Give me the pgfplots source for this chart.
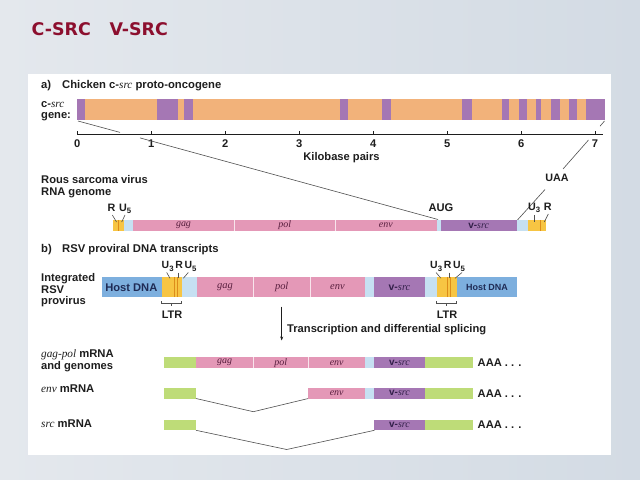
\documentclass[border=0pt]{standalone}
\usepackage{pgfplots}
\pgfplotsset{compat=1.18}
\usetikzlibrary{arrows.meta}
\usepackage{fontspec}
\setmainfont{Liberation Sans}
\newfontfamily\serif{Liberation Serif}
\newfontfamily\titlefont{DejaVu Sans}
\definecolor{bgl}{HTML}{E4E8ED}
\definecolor{bgr}{HTML}{D3DBE4}
\definecolor{corange}{HTML}{F2B27A}
\definecolor{cpurple}{HTML}{A577B4}
\definecolor{cpink}{HTML}{E498B7}
\definecolor{clblue}{HTML}{C6E0F2}
\definecolor{cyellow}{HTML}{F7C543}
\definecolor{chost}{HTML}{7DAFDE}
\definecolor{cgreen}{HTML}{BEDC78}
\definecolor{ctitle}{HTML}{8C0F2E}
\definecolor{ctxt}{HTML}{1E1E1E}
\definecolor{cgene}{HTML}{5A2040}
\definecolor{cvsrc}{HTML}{33204A}
\definecolor{chosttxt}{HTML}{1F2B55}
\definecolor{cline}{HTML}{505050}
\newcommand{\fs}[1]{\fontsize{#1}{#1}\selectfont}
\newcommand{\ital}[1]{{\serif\itshape #1}}
\newcommand{\sub}[1]{\raisebox{-0.45ex}{\fs{7.8}#1}}
\newcommand{\rect}[5]{\addplot[fill=#1,draw=none,forget plot] coordinates {(#2,#4) (#3,#4) (#3,#5) (#2,#5)} --cycle;}
\newcommand{\vdiv}[3]{\addplot[draw=white,opacity=0.75,line width=0.5bp,forget plot] coordinates {(#1,#2) (#1,#3)};}
\newcommand{\ydiv}[3]{\addplot[draw=orange!80!black,opacity=0.6,line width=0.4bp,forget plot] coordinates {(#1,#2) (#1,#3)};}
\newcommand{\cl}[1]{\addplot[draw=cline,line width=0.6bp,forget plot] coordinates {#1};}
\newcommand{\blk}[1]{\addplot[draw=ctxt,line width=0.5bp,forget plot] coordinates {#1};}
\newcommand{\gname}[4]{\node[text=cgene,inner sep=0] at (#1,#2) {\fs{#3}\ital{#4}};}
\newcommand{\vsrc}[3]{\node[text=cvsrc,inner sep=0] at (#1,#2) {\fs{#3}\textbf{v-}\ital{src}};}
\newcommand{\lab}{\fs{11.2}\bfseries}
\begin{document}
\begin{tikzpicture}
\begin{axis}[width=640bp,height=480bp,scale only axis,
  xmin=0,xmax=640,ymin=0,ymax=480,y dir=reverse,hide axis,clip=false]
% background
\addplot[draw=none,left color=bgl,right color=bgr,forget plot] coordinates {(0,0) (640,0) (640,480) (0,480)} --cycle;
\rect{white}{28}{611}{74}{455}
% title
\node[anchor=west,inner sep=0,text=ctitle] at (31.5,29.5) {\titlefont\bfseries\fs{17.5}C-SRC};
\node[anchor=west,inner sep=0,text=ctitle] at (109.5,29.5) {\titlefont\bfseries\fs{17.5}V-SRC};
% ---- part a
\node[anchor=west,inner sep=0,text=ctxt] at (41,85.5) {\fs{11.3}\bfseries a)};
\node[anchor=west,inner sep=0,text=ctxt] at (62,85.5) {\fs{11.3}\bfseries Chicken c-\ital{\mdseries src} proto-oncogene};
\node[anchor=west,inner sep=0,text=ctxt] at (41,104.5) {\lab c-\ital{\mdseries src}};
\node[anchor=west,inner sep=0,text=ctxt] at (41,116.5) {\lab gene:};
% c-src gene bar
\rect{corange}{77.3}{604.7}{99.5}{120.5}
\rect{cpurple}{77.3}{85}{99.5}{120.5}
\rect{cpurple}{157.2}{178}{99.5}{120.5}
\rect{cpurple}{184.3}{192.5}{99.5}{120.5}
\rect{cpurple}{340}{347.7}{99.5}{120.5}
\rect{cpurple}{381.7}{391}{99.5}{120.5}
\rect{cpurple}{462}{472}{99.5}{120.5}
\rect{cpurple}{502.3}{509.3}{99.5}{120.5}
\rect{cpurple}{519.3}{526.7}{99.5}{120.5}
\rect{cpurple}{536}{540.7}{99.5}{120.5}
\rect{cpurple}{550.7}{560}{99.5}{120.5}
\rect{cpurple}{569.3}{576.7}{99.5}{120.5}
\rect{cpurple}{586}{604.7}{99.5}{120.5}
% kb scale
\blk{(77.3,134.3) (603,134.3)}
\blk{(77.3,134.3) (77.3,131)}
\blk{(151.3,134.3) (151.3,131)}
\blk{(225.2,134.3) (225.2,131)}
\blk{(299.2,134.3) (299.2,131)}
\blk{(373.1,134.3) (373.1,131)}
\blk{(447.1,134.3) (447.1,131)}
\blk{(521.1,134.3) (521.1,131)}
\blk{(595.0,134.3) (595.0,131)}
\node[inner sep=0,text=ctxt] at (77.3,143.5) {\lab 0};
\node[inner sep=0,text=ctxt] at (151.3,143.5) {\lab 1};
\node[inner sep=0,text=ctxt] at (225.2,143.5) {\lab 2};
\node[inner sep=0,text=ctxt] at (299.2,143.5) {\lab 3};
\node[inner sep=0,text=ctxt] at (373.1,143.5) {\lab 4};
\node[inner sep=0,text=ctxt] at (447.1,143.5) {\lab 5};
\node[inner sep=0,text=ctxt] at (521.1,143.5) {\lab 6};
\node[inner sep=0,text=ctxt] at (595.0,143.5) {\lab 7};
\node[inner sep=0,text=ctxt] at (341.5,157.5) {\lab Kilobase pairs};
% connecting lines
\cl{(78,121) (120,132.4)}
\cl{(140,137.9) (438,219.5)}
\cl{(604.5,121) (600,126.2)}
\cl{(588.5,140) (563,169)}
\cl{(545,189.5) (517,220.5)}
\node[inner sep=0,text=ctxt] at (557,177.5) {\fs{10.8}\bfseries UAA};
% RSV RNA genome
\node[anchor=west,inner sep=0,text=ctxt] at (41,179.5) {\lab Rous sarcoma virus};
\node[anchor=west,inner sep=0,text=ctxt] at (41,192.5) {\lab RNA genome};
\rect{cyellow}{113.3}{124.3}{220}{231}
\ydiv{118.5}{220}{231}
\rect{clblue}{124.3}{132.7}{220}{231}
\rect{cpink}{132.7}{436.7}{220}{231}
\vdiv{234.3}{220}{231}
\vdiv{335}{220}{231}
\rect{clblue}{436.7}{440.7}{220}{231}
\rect{cpurple}{440.7}{516.7}{220}{231}
\rect{clblue}{516.7}{528.3}{220}{231}
\rect{cyellow}{528.3}{546}{220}{231}
\ydiv{540}{220}{231}
\gname{183.5}{225.5}{10}{gag}
\gname{284.7}{225.5}{10}{pol}
\gname{385.9}{225.5}{10}{env}
\vsrc{478.7}{225.5}{10}
\node[anchor=west,inner sep=0,text=ctxt] at (107.5,209) {\fs{10.8}\bfseries R\,\,U\sub{5}};
\cl{(112.3,215) (116.5,222)}
\cl{(125,215) (121.7,222)}
\node[anchor=west,inner sep=0,text=ctxt] at (528,208) {\fs{10.8}\bfseries U\sub{3}\,\,R};
\cl{(534.5,215) (534.5,222)}
\cl{(548.3,214) (544.3,222)}
\node[inner sep=0,text=ctxt] at (441,208) {\lab AUG};
% ---- part b
\node[anchor=west,inner sep=0,text=ctxt] at (41,249.5) {\fs{11.3}\bfseries b)};
\node[anchor=west,inner sep=0,text=ctxt] at (62,249.5) {\fs{11.3}\bfseries RSV proviral DNA transcripts};
\node[anchor=west,inner sep=0,text=ctxt] at (41,278.3) {\lab Integrated};
\node[anchor=west,inner sep=0,text=ctxt] at (41,289.8) {\lab RSV};
\node[anchor=west,inner sep=0,text=ctxt] at (41,301.5) {\lab provirus};
% provirus bar
\rect{chost}{102.3}{161.7}{277.3}{297.3}
\rect{cyellow}{161.7}{181.7}{277.3}{297.3}
\ydiv{174}{277.3}{297.3}
\ydiv{177.3}{277.3}{297.3}
\rect{clblue}{181.7}{196.7}{277.3}{297.3}
\rect{cpink}{196.7}{365}{277.3}{297.3}
\vdiv{253.3}{277.3}{297.3}
\vdiv{310}{277.3}{297.3}
\rect{clblue}{365}{374}{277.3}{297.3}
\rect{cpurple}{374}{425}{277.3}{297.3}
\rect{clblue}{425}{436.7}{277.3}{297.3}
\rect{cyellow}{436.7}{456.7}{277.3}{297.3}
\ydiv{446.7}{277.3}{297.3}
\ydiv{450}{277.3}{297.3}
\rect{chost}{456.7}{517.3}{277.3}{297.3}
\node[inner sep=0,text=chosttxt] at (131.3,287.3) {\fs{11.2}\bfseries Host DNA};
\node[inner sep=0,text=chosttxt] at (487,287.3) {\fs{9}\bfseries Host DNA};
\gname{225}{287.3}{10.5}{gag}
\gname{281.7}{287.3}{10.5}{pol}
\gname{337.5}{287.3}{10.5}{env}
\vsrc{399.5}{287.3}{10.5}
% LTR labels
\node[anchor=west,inner sep=0,text=ctxt] at (161.5,266.5) {\fs{10.5}\bfseries U\sub{3}\,R\,U\sub{5}};
\cl{(166.7,272.5) (170,278.3)}
\cl{(178.5,272.5) (178.5,278.3)}
\cl{(188.3,272.5) (183.3,278.3)}
\node[anchor=west,inner sep=0,text=ctxt] at (430,266.5) {\fs{10.5}\bfseries U\sub{3}\,R\,U\sub{5}};
\cl{(436,272.5) (441,278.3)}
\cl{(449.5,272.5) (449.5,278.3)}
\cl{(462,272.5) (455,278.3)}
\cl{(161.7,301) (161.7,303.3) (181.7,303.3) (181.7,301)}
\cl{(171.7,303.3) (171.7,305.5)}
\node[inner sep=0,text=ctxt] at (172,315) {\fs{11}\bfseries LTR};
\cl{(436.7,301) (436.7,303.3) (456.7,303.3) (456.7,301)}
\cl{(446.7,303.3) (446.7,305.5)}
\node[inner sep=0,text=ctxt] at (447,315) {\fs{11}\bfseries LTR};
% arrow
\addplot[draw=ctxt,line width=0.6bp,-{Stealth[length=4bp,width=3bp]},forget plot] coordinates {(281.7,306.7) (281.7,340.5)};
\node[anchor=west,inner sep=0,text=ctxt] at (287,329.5) {\lab Transcription and differential splicing};
% mRNA rows
\node[anchor=west,inner sep=0,text=ctxt] at (41,355) {\fs{11.3}\ital{gag-pol}\bfseries\ mRNA};
\node[anchor=west,inner sep=0,text=ctxt] at (41,366.5) {\lab and genomes};
\node[anchor=west,inner sep=0,text=ctxt] at (41,388.5) {\fs{11.3}\ital{env}\bfseries\ mRNA};
\node[anchor=west,inner sep=0,text=ctxt] at (41,423.5) {\fs{11.3}\ital{src}\bfseries\ mRNA};
% row 1
\rect{cgreen}{164.3}{196}{357}{368.3}
\rect{cpink}{196}{365}{357}{368.3}
\vdiv{253.3}{357}{368.3}
\vdiv{308.3}{357}{368.3}
\rect{clblue}{365}{374}{357}{368.3}
\rect{cpurple}{374}{425}{357}{368.3}
\rect{cgreen}{425}{472.7}{357}{368.3}
\gname{224.7}{362.7}{10}{gag}
\gname{280.8}{362.7}{10}{pol}
\gname{336.7}{362.7}{10}{env}
\vsrc{399.5}{362.7}{10}
\node[anchor=west,inner sep=0,text=ctxt] at (477.5,362.7) {\fs{11.2}\bfseries AAA . . .};
% row 2
\rect{cgreen}{164.3}{196}{387.7}{398.5}
\cl{(196,398.5) (253.3,411.7) (308.3,398.5)}
\rect{cpink}{308.3}{365}{387.7}{398.5}
\rect{clblue}{365}{374}{387.7}{398.5}
\rect{cpurple}{374}{425}{387.7}{398.5}
\rect{cgreen}{425}{472.7}{387.7}{398.5}
\gname{336.7}{393.1}{10}{env}
\vsrc{399.5}{393.1}{10}
\node[anchor=west,inner sep=0,text=ctxt] at (477.5,393.3) {\fs{11.2}\bfseries AAA . . .};
% row 3
\rect{cgreen}{164.3}{196}{419.7}{430.3}
\cl{(196,430.3) (286.7,449.5) (374.5,430.3)}
\rect{cpurple}{374}{425}{419.7}{430.3}
\rect{cgreen}{425}{472.7}{419.7}{430.3}
\vsrc{399.5}{425}{10}
\node[anchor=west,inner sep=0,text=ctxt] at (477.5,424.8) {\fs{11.2}\bfseries AAA . . .};
\end{axis}
\end{tikzpicture}
\end{document}
